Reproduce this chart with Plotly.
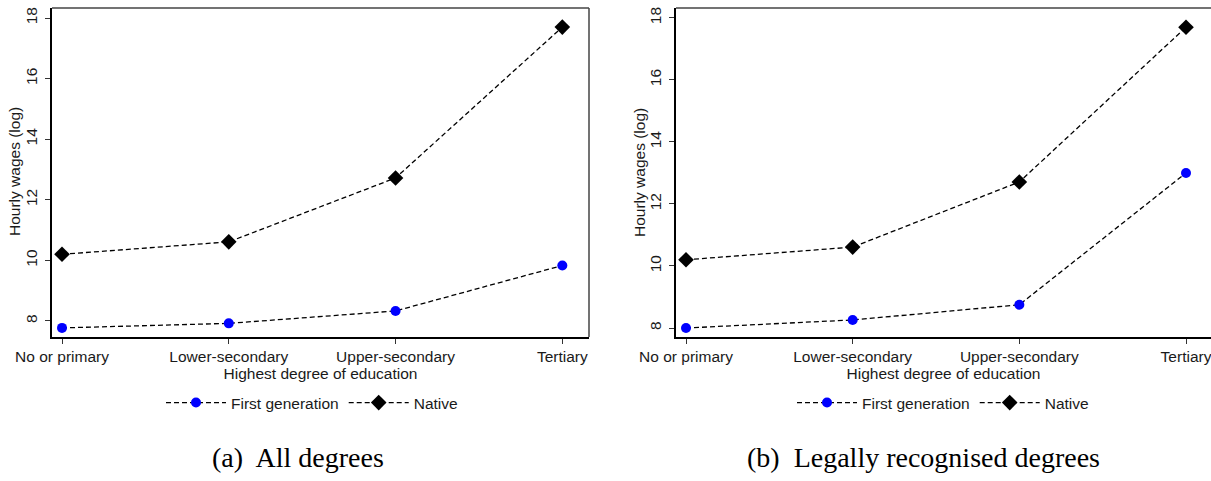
import plotly.graph_objects as go

# Education levels on the x axis
levels = ["No or primary", "Lower-secondary", "Upper-secondary", "Tertiary"]

# Panel (a): all degrees
all_first_gen = [7.77, 7.92, 8.33, 9.83]
all_native = [10.2, 10.61, 12.72, 17.7]

# Panel (b): legally recognised degrees
legal_first_gen = [8.0, 8.26, 8.75, 13.0]
legal_native = [10.2, 10.61, 12.71, 17.7]

y_ticks = [8, 10, 12, 14, 16, 18]

W, H = 1211, 481
SANS = "Liberation Sans, Arial, sans-serif"
SERIF = "Liberation Serif, Times New Roman, serif"
FS = 15.5

fig = go.Figure()

line_style = dict(color="black", width=1.3, dash="5px,3px")
first_marker = dict(symbol="circle", size=10, color="#0000ff")
native_marker = dict(symbol="diamond", size=12, color="black")

panels = [
    ("x", "y", "legend", all_first_gen, all_native),
    ("x2", "y2", "legend2", legal_first_gen, legal_native),
]
for xa, ya, lg, fg, nat in panels:
    fig.add_trace(go.Scatter(x=levels, y=fg, mode="lines+markers", name="First generation",
                             line=line_style, marker=first_marker,
                             xaxis=xa, yaxis=ya, legend=lg))
    fig.add_trace(go.Scatter(x=levels, y=nat, mode="lines+markers", name="Native",
                             line=line_style, marker=native_marker,
                             xaxis=xa, yaxis=ya, legend=lg))

y_dom = [1 - 337 / H, 1 - 8 / H]

axis_common = dict(
    showgrid=False, zeroline=False, showline=True, linecolor="black", linewidth=1.5,
    ticks="outside", ticklen=5, tickwidth=1, tickcolor="#333", automargin=False,
    tickfont=dict(family=SANS, size=FS, color="#1a1a1a"),
)
title_font = dict(family=SANS, size=FS, color="#1a1a1a")

fig.update_layout(
    width=W, height=H,
    margin=dict(l=0, r=0, t=0, b=0, autoexpand=False),
    paper_bgcolor="white", plot_bgcolor="white",
    font=dict(family=SANS, size=FS, color="#1a1a1a"),
    xaxis=dict(domain=[52 / W, 589 / W], range=[-0.06, 3.16], type="category",
               title=dict(text="Highest degree of education", standoff=2, font=title_font),
               **axis_common),
    yaxis=dict(domain=y_dom, range=[7.47, 18.33], tickvals=y_ticks, tickangle=-90,
               ticklabelstandoff=2, **axis_common),
    xaxis2=dict(domain=[676 / W, 1.0], range=[-0.06, 3.15], type="category", anchor="y2",
                title=dict(text="Highest degree of education", standoff=2, font=title_font),
                **axis_common),
    yaxis2=dict(domain=y_dom, range=[7.71, 18.32], tickvals=y_ticks, tickangle=-90, anchor="x2",
                ticklabelstandoff=2, **axis_common),
    legend=dict(orientation="h", x=312 / W, xanchor="center", y=1 - 403 / H, yanchor="middle",
                font=dict(family=SANS, size=FS), itemwidth=60, bgcolor="rgba(0,0,0,0)"),
    legend2=dict(orientation="h", x=943 / W, xanchor="center", y=1 - 403 / H, yanchor="middle",
                 font=dict(family=SANS, size=FS), itemwidth=60, bgcolor="rgba(0,0,0,0)"),
    showlegend=True,
)

# Top and right frame lines of each plot area
for xr, yr, right in [("x domain", "y domain", True), ("x2 domain", "y2 domain", False)]:
    fig.add_shape(type="line", xref=xr, yref=yr, x0=0, x1=1, y0=1, y1=1,
                  line=dict(color="#444", width=1.5))
    if right:
        fig.add_shape(type="line", xref=xr, yref=yr, x0=1, x1=1, y0=0, y1=1,
                      line=dict(color="#444", width=1.5))

# Vertical y-axis titles
y_mid = 1 - 172 / H
for x_px in (14, 639):
    fig.add_annotation(text="Hourly wages (log)", xref="paper", yref="paper",
                       x=x_px / W, y=y_mid, xanchor="center", yanchor="middle",
                       textangle=-90, showarrow=False, font=title_font)

# Sub-figure captions
fig.add_annotation(text="(a)  All degrees", xref="paper", yref="paper",
                   x=298 / W, y=1 - 457 / H, xanchor="center", yanchor="middle",
                   showarrow=False, font=dict(family=SERIF, size=28, color="black"))
fig.add_annotation(text="(b)  Legally recognised degrees", xref="paper", yref="paper",
                   x=923 / W, y=1 - 457 / H, xanchor="center", yanchor="middle",
                   showarrow=False, font=dict(family=SERIF, size=28, color="black"))

fig.write_html("out.html")
